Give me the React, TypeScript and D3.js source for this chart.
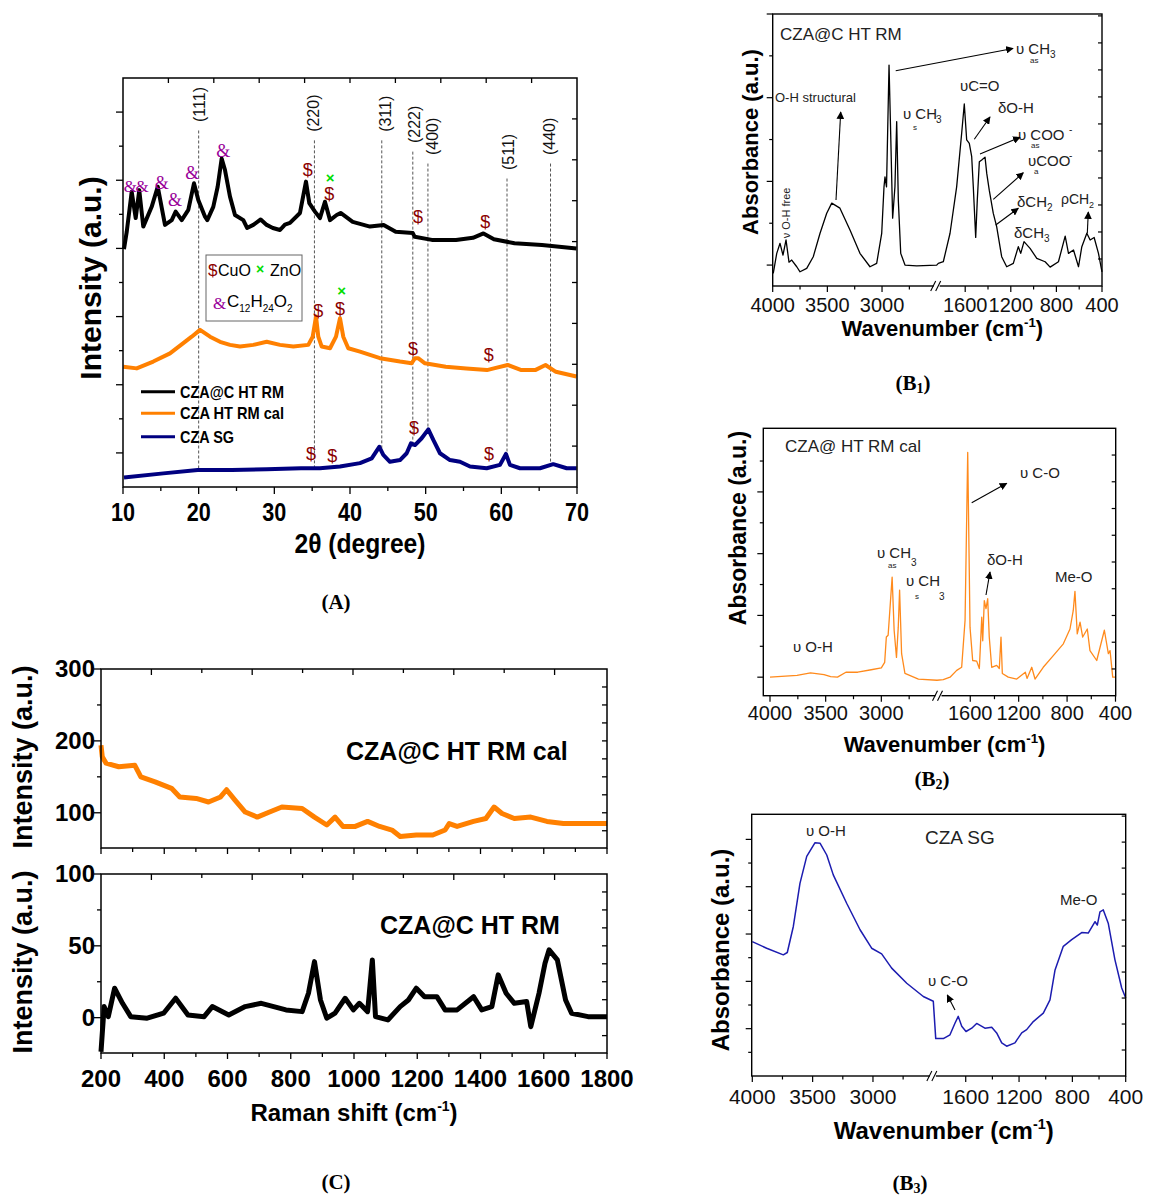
import React from "react";
import * as d3 from "d3";

const SANS = "Arial, 'Liberation Sans', Helvetica, sans-serif";
const SERIF = "'Times New Roman', 'Liberation Serif', Times, serif";

// ---------- (A) XRD ----------
const rmTheta = [10.13, 10.5, 11.15, 11.68, 12.15, 12.68, 13.79, 14.59, 15.55, 16.44, 16.96, 17.76, 18.63, 19.38, 19.95, 20.84, 21.14, 21.93, 22.51, 23.04, 23.48, 24.14, 24.8, 25.9, 26.4, 27.22, 28.2, 28.99, 29.8, 30.75, 31.4, 32.07, 33.39, 34.18, 34.62, 35.37, 36.03, 36.69, 37.36, 38.24, 38.76, 40.36, 42.64, 44.45, 46.04, 48.3, 48.55, 50.82, 54.01, 56.25, 57.64, 59.02, 61.74, 65.37, 69.93];
const rmInt = [6.98, 7.5, 8.66, 7.89, 8.71, 7.64, 8.22, 8.81, 7.69, 7.83, 8.08, 7.83, 8.13, 8.91, 8.42, 7.93, 7.83, 8.22, 8.81, 9.64, 9.3, 8.52, 7.98, 7.83, 7.6, 7.69, 7.85, 7.69, 7.6, 7.54, 7.7, 7.75, 8.04, 8.96, 8.33, 8.08, 7.89, 8.37, 7.83, 7.98, 8.04, 7.78, 7.64, 7.69, 7.49, 7.45, 7.34, 7.25, 7.25, 7.31, 7.44, 7.27, 7.15, 7.1, 7.0];
const calTheta = [10.04, 11.81, 14.0, 16.21, 17.97, 19.08, 20.18, 21.5, 22.82, 24.14, 25.46, 27.22, 28.99, 30.75, 32.51, 34.49, 35.07, 35.51, 35.81, 36.26, 37.36, 38.15, 38.68, 39.11, 39.77, 41.32, 43.96, 46.61, 48.15, 48.59, 49.0, 49.91, 52.65, 55.37, 58.1, 59.01, 60.84, 62.65, 64.47, 65.84, 67.21, 69.93];
const calInt = [3.53, 3.48, 3.68, 3.92, 4.22, 4.41, 4.61, 4.41, 4.26, 4.17, 4.12, 4.17, 4.26, 4.17, 4.12, 4.17, 4.41, 5.0, 4.41, 4.12, 4.07, 4.41, 4.95, 4.41, 4.07, 3.97, 3.78, 3.68, 3.63, 3.78, 3.78, 3.63, 3.53, 3.48, 3.43, 3.48, 3.58, 3.43, 3.43, 3.58, 3.38, 3.24];
const sgTheta = [10.13, 15.33, 19.87, 24.4, 28.98, 33.52, 36.03, 38.68, 41.32, 42.87, 43.87, 44.4, 45.28, 46.61, 47.49, 48.06, 48.59, 49.47, 50.35, 51.01, 51.89, 53.21, 54.54, 55.86, 58.06, 59.82, 60.61, 61.14, 62.46, 65.11, 66.86, 68.64, 69.96];
const sgInt = [0.28, 0.4, 0.5, 0.5, 0.52, 0.55, 0.55, 0.6, 0.7, 0.84, 1.18, 0.94, 0.74, 0.79, 0.99, 1.28, 1.23, 1.43, 1.69, 1.38, 0.99, 0.79, 0.74, 0.6, 0.55, 0.65, 0.97, 0.65, 0.55, 0.55, 0.67, 0.55, 0.55];
const xrdNames = ["CZA@C HT RM", "CZA HT RM cal", "CZA SG"];
const xrdColors = ["#000000", "#ff8000", "#000080"];
const xrdTicks = [10, 20, 30, 40, 50, 60, 70];

const hklLabels = ["(111)", "(220)", "(311)", "(222)", "(400)", "(511)", "(440)"];
const hklLineTheta = [20.0, 35.3, 44.2, 48.3, 50.3, 60.75, 66.5];
const hklLabelTheta = [20.05, 35.1, 44.6, 48.5, 50.9, 60.85, 66.3];
const hklBase = [10.71, 10.42, 10.42, 10.09, 9.74, 9.3, 9.74];

// phase marks: "&&" is the pair of C12H24O2 marks at ~11 and ~12.4 degrees
const markSym = ["&&", "&", "&", "&", "&", "$", "×", "$", "$", "$", "$", "$", "×", "$", "$", "$", "$", "$", "$"];
const markTheta = [11.65, 15.11, 16.87, 19.16, 23.25, 34.41, 37.36, 37.26, 48.98, 57.88, 35.81, 38.68, 38.9, 48.32, 58.33, 34.84, 37.66, 48.46, 58.37];
const markInt = [8.83, 8.92, 8.43, 9.21, 9.87, 9.32, 9.08, 8.62, 7.93, 7.78, 5.17, 5.24, 5.76, 4.07, 3.87, 0.97, 0.91, 1.75, 0.99];

// ---------- (B) FTIR ----------
const ftirTicks = [4000, 3500, 3000, 1600, 1200, 800, 400];
const ftirMinor = [3750, 3250, 2750, 1400, 1000, 600];

const b1Wn = [3995, 3963, 3933, 3906, 3878, 3851, 3826, 3780, 3750, 3689, 3629, 3567, 3506, 3460, 3385, 3293, 3202, 3110, 3049, 3003, 2982, 2973, 2959, 2936, 2921, 2903, 2882, 2866, 2851, 2829, 2790, 2683, 2500, 1836, 1792, 1733, 1675, 1631, 1608, 1587, 1564, 1543, 1529, 1508, 1494, 1476, 1455, 1426, 1411, 1389, 1354, 1324, 1280, 1236, 1178, 1134, 1113, 1084, 1031, 972, 899, 855, 782, 723, 694, 650, 606, 577, 533, 504, 469, 431, 400];
const b1Abs = [-0.2, 0.28, 0.52, 0.24, 0.6, 0.07, 0.12, -0.04, -0.16, -0.08, 0.2, 0.76, 1.24, 1.48, 1.36, 0.84, 0.28, -0.04, 0.04, 0.76, 1.87, 2.11, 1.87, 4.78, 3.15, 1.12, 1.87, 3.43, 1.55, 0.28, 0.0, -0.02, 0.0, 0.04, 0.08, 0.76, 1.87, 3.15, 3.85, 2.99, 2.91, 2.59, 1.87, 0.66, 1.55, 2.47, 2.51, 2.58, 2.19, 1.79, 1.24, 0.92, 0.2, -0.04, 0.04, 0.44, 0.28, 0.56, 0.4, 0.16, 0.08, -0.05, 0.08, 0.69, 0.28, 0.36, -0.04, 0.44, 0.76, 0.6, 0.66, 0.28, -0.16];

const b2Wn = [4000, 3757, 3636, 3515, 3455, 3394, 3318, 3212, 3091, 3000, 2970, 2955, 2939, 2903, 2885, 2864, 2848, 2836, 2818, 2788, 2667, 2500, 1823, 1767, 1712, 1671, 1643, 1621, 1610, 1602, 1580, 1547, 1525, 1505, 1497, 1484, 1470, 1456, 1443, 1423, 1382, 1360, 1346, 1335, 1286, 1216, 1145, 1131, 1092, 1065, 997, 914, 831, 776, 749, 735, 716, 693, 671, 633, 611, 555, 514, 492, 459, 445, 423, 404];
const b2Abs = [0, 0.03, 0.07, 0.04, 0.01, 0, 0.08, 0.08, 0.12, 0.15, 0.24, 0.65, 0.68, 1.62, 0.76, 0.32, 0.81, 1.41, 0.38, 0.06, -0.03, -0.05, -0.04, 0, 0.11, 0.16, 0.92, 3.64, 2.0, 0.81, 0.27, 0.26, 0.14, 0.97, 0.59, 1.24, 1.11, 1.27, 0.65, 0.16, 0.19, 0.14, 0.65, 0.06, 0, -0.03, 0.08, -0.02, 0.16, -0.03, 0.16, 0.35, 0.54, 0.78, 1.08, 1.39, 0.7, 0.89, 0.65, 0.78, 0.43, 0.27, 0.59, 0.76, 0.38, 0.43, 0, 0];

const b3Wn = [4000, 3881, 3743, 3710, 3660, 3605, 3549, 3480, 3439, 3383, 3329, 3218, 3107, 3011, 2928, 2845, 2720, 2583, 2500, 1825, 1768, 1718, 1680, 1656, 1630, 1598, 1555, 1518, 1456, 1405, 1368, 1330, 1293, 1231, 1180, 1143, 1093, 1018, 968, 930, 868, 805, 730, 681, 630, 613, 593, 568, 531, 481, 430, 400];
const b3Abs = [1.84, 1.7, 1.56, 1.61, 2.16, 3.07, 3.64, 3.93, 3.92, 3.67, 3.25, 2.65, 2.09, 1.7, 1.58, 1.28, 0.96, 0.68, 0.58, -0.21, -0.21, -0.13, 0.12, 0.26, 0.05, -0.06, 0.01, 0.11, 0.01, 0.03, -0.09, -0.3, -0.37, -0.3, -0.09, -0.02, 0.15, 0.33, 0.61, 1.24, 1.74, 1.88, 2.03, 2.02, 2.26, 2.19, 2.47, 2.51, 2.23, 1.46, 0.86, 0.65];

// ---------- (C) Raman ----------
const ramanCalShift = [200, 204, 216, 256, 307, 326, 371, 423, 449, 501, 540, 578, 597, 623, 656, 694, 733, 772, 836, 875, 914, 940, 965, 1004, 1043, 1081, 1120, 1146, 1197, 1249, 1288, 1301, 1326, 1378, 1417, 1443, 1468, 1507, 1559, 1610, 1662, 1714, 1800];
const ramanCalInt = [194, 178, 169, 164, 166, 150, 143, 134, 122, 120, 115, 122, 132, 118, 101, 94, 101, 108, 106, 94, 83, 94, 81, 81, 88, 81, 76, 67, 69, 69, 76, 85, 81, 88, 92, 108, 99, 92, 94, 88, 85, 85, 85];
const ramanRmShift = [200, 204, 210, 223, 243, 268, 294, 346, 398, 436, 475, 526, 552, 604, 656, 707, 785, 836, 856, 875, 894, 914, 940, 972, 998, 1017, 1043, 1058, 1068, 1107, 1146, 1172, 1197, 1223, 1262, 1288, 1326, 1378, 1404, 1436, 1456, 1481, 1507, 1546, 1559, 1585, 1604, 1617, 1643, 1669, 1688, 1740, 1800];
const ramanRmInt = [-23.7, -10.9, 7.7, 0.7, 20.5, 10.0, 0.7, -0.4, 3.1, 13.5, 1.9, 0.7, 7.7, 1.9, 7.7, 10.0, 5.4, 4.2, 17.0, 39.0, 12.3, -0.4, 3.1, 13.5, 5.4, 10.0, 4.2, 40.2, 0.7, -1.6, 7.7, 12.3, 20.5, 14.6, 14.6, 5.4, 5.4, 14.6, 5.4, 7.7, 29.8, 17.0, 10.0, 11.2, -6.3, 17.0, 37.9, 47.2, 40.2, 12.3, 3.1, 0.7, 0.7];
const ramanTicks = [200, 400, 600, 800, 1000, 1200, 1400, 1600, 1800];

function XrdPanel() {
  const L = 123, R = 577, T = 78, B = 487;
  const x = d3.scaleLinear().domain([10, 70]).range([L, R]);
  const y = d3.scaleLinear().domain([0, 12]).range([B, T]);
  const yR = d3.scaleLinear().domain([0, 10]).range([B, T]);
  const xT = d3.scaleLinear().domain([0, 10]).range([L, R]);
  const mk = (xs: number[], ys: number[]) =>
    d3.line<number>().x((_, i) => x(xs[i])).y((d) => y(d))(ys) || "";
  const series = [
    [rmTheta, rmInt],
    [calTheta, calInt],
    [sgTheta, sgInt],
  ];
  // where a guide line meets the bottom trace
  const sgAt = (t: number) => {
    const i = Math.max(1, Math.min(d3.bisectLeft(sgTheta, t), sgTheta.length - 1));
    const f = (t - sgTheta[i - 1]) / (sgTheta[i] - sgTheta[i - 1]);
    return sgInt[i - 1] + f * (sgInt[i] - sgInt[i - 1]);
  };
  const markColor = (s: string) => (s[0] === "&" ? "#990099" : s === "$" ? "#8b0000" : "#00dd00");
  return (
    <g>
      {hklLabels.map((h, i) => (
        <g key={h}>
          <line x1={x(hklLineTheta[i])} x2={x(hklLineTheta[i])} y1={y(hklBase[i] - 0.25)} y2={y(sgAt(hklLineTheta[i]))}
            stroke="#555" strokeWidth={1} strokeDasharray="3,2" />
          <text transform={`translate(${x(hklLabelTheta[i]) + 6},${y(hklBase[i])}) rotate(-90)`} fontSize={16} fill="#111">{h}</text>
        </g>
      ))}
      {[2, 1, 0].map((k) => (
        <path key={k} d={mk(series[k][0], series[k][1])} fill="none" stroke={xrdColors[k]} strokeWidth={4} strokeLinejoin="round" />
      ))}
      {markSym.map((s, i) => (
        <text key={i} x={x(markTheta[i])} y={y(markInt[i])} dy="0.35em" textAnchor="middle"
          fontFamily={s[0] === "&" ? SERIF : SANS} fontSize={s === "×" ? 15 : s === "&&" ? 17 : 18}
          fontWeight={s === "×" ? "bold" : "normal"} letterSpacing={s === "&&" ? -1.5 : 0}
          fill={markColor(s)}>{s}</text>
      ))}
      <rect x={L} y={T} width={R - L} height={B - T} fill="none" stroke="#000" strokeWidth={1.5} />
      {d3.range(1, 12).map((v) => (
        <line key={"l" + v} x1={L} x2={L - (v % 2 ? 7 : 4)} y1={y(v)} y2={y(v)} stroke="#000" strokeWidth={1.3} />
      ))}
      {d3.range(1, 10).map((v) => (
        <line key={"r" + v} x1={R} x2={R - 5} y1={yR(v)} y2={yR(v)} stroke="#000" strokeWidth={1.3} />
      ))}
      {d3.range(1, 10).map((v) => (
        <line key={"t" + v} x1={xT(v)} x2={xT(v)} y1={T} y2={T + 5} stroke="#000" strokeWidth={1.3} />
      ))}
      {d3.range(10, 71, 5).map((v) => (
        <line key={"b" + v} x1={x(v)} x2={x(v)} y1={B} y2={B + (v % 10 === 0 ? 7 : 4)} stroke="#000" strokeWidth={1.3} />
      ))}
      {xrdTicks.map((t) => (
        <text key={t} x={x(t)} y={521} textAnchor="middle" fontSize={25} fontWeight="bold" textLength={24} lengthAdjust="spacingAndGlyphs">{t}</text>
      ))}
      <text x={360} y={553} textAnchor="middle" fontSize={27} fontWeight="bold" textLength={131} lengthAdjust="spacingAndGlyphs">2θ (degree)</text>
      <text transform="translate(101,278) rotate(-90)" textAnchor="middle" fontSize={30} fontWeight="bold">Intensity (a.u.)</text>
      {/* phase legend */}
      <rect x={206} y={255} width={96} height={66} fill="#fff" stroke="#666" strokeWidth={1} />
      <text x={208} y={276} fontSize={17} fill="#8b0000">$</text>
      <text x={218} y={276} fontSize={16}>CuO</text>
      <text x={256} y={274} fontSize={14} fontWeight="bold" fill="#00dd00">×</text>
      <text x={270} y={276} fontSize={16}>ZnO</text>
      <text x={213} y={309} fontSize={17} fontFamily={SERIF} fill="#990099">&amp;</text>
      <text x={227} y={307} fontSize={17}>
        C<tspan fontSize={10} dy={5}>12</tspan><tspan dy={-5}>H</tspan><tspan fontSize={10} dy={5}>24</tspan><tspan dy={-5}>O</tspan><tspan fontSize={10} dy={5}>2</tspan>
      </text>
      {/* series legend */}
      {xrdNames.map((n, i) => {
        const ly = [391.7, 413.3, 436.7][i];
        return (
          <g key={n}>
            <line x1={141} x2={175} y1={ly} y2={ly} stroke={xrdColors[i]} strokeWidth={3} />
            <text x={180} y={ly + 6} fontSize={17} fontWeight="bold" textLength={i === 2 ? 54 : 104} lengthAdjust="spacingAndGlyphs">{n}</text>
          </g>
        );
      })}
    </g>
  );
}

type FtirCfg = {
  L: number; R: number; T: number; B: number;
  lr: [number, number]; rr: [number, number];
  yDom: [number, number]; yMajor: number[]; yMinor: number[];
  rDom: [number, number]; rTicks: number[];
  wn: number[]; ab: number[]; color: string; sw: number;
  tickFs: number; tickDy: number; titleY: number; titleFs: number;
  yTitleX: number; yTitleY: number; yTitleFs: number;
};

function Ftir({ c, children }: { c: FtirCfg; children?: React.ReactNode }) {
  const sl = d3.scaleLinear().domain([4000, 2500]).range(c.lr);
  const sr = d3.scaleLinear().domain([1850, 400]).range(c.rr);
  const sx = (w: number) => (w >= 2500 ? sl(w) : sr(w));
  const sy = d3.scaleLinear().domain(c.yDom).range([c.B, c.T]);
  const syR = d3.scaleLinear().domain(c.rDom).range([c.B, c.T]);
  const d = d3.line<number>().x((_, i) => sx(c.wn[i])).y((v) => sy(v))(c.ab) || "";
  const xb = (c.lr[1] + c.rr[0]) / 2;
  const cx = (c.L + c.R) / 2 + 5;
  return (
    <g>
      <path d={d} fill="none" stroke={c.color} strokeWidth={c.sw} strokeLinejoin="round" />
      <rect x={c.L} y={c.T} width={c.R - c.L} height={c.B - c.T} fill="none" stroke="#000" strokeWidth={1.4} />
      {ftirTicks.map((t) => (
        <line key={"M" + t} x1={sx(t)} x2={sx(t)} y1={c.B} y2={c.B + 6} stroke="#000" strokeWidth={1.2} />
      ))}
      {ftirMinor.map((t) => (
        <line key={"m" + t} x1={sx(t)} x2={sx(t)} y1={c.B} y2={c.B + 3.5} stroke="#000" strokeWidth={1.2} />
      ))}
      {ftirTicks.map((t) => (
        <text key={"T" + t} x={sx(t)} y={c.B + c.tickDy} textAnchor="middle" fontSize={c.tickFs} fill="#111">{t}</text>
      ))}
      <rect x={xb - 3} y={c.B - 2} width={6} height={4} fill="#fff" />
      <line x1={xb - 6} x2={xb - 1} y1={c.B + 5} y2={c.B - 5} stroke="#000" strokeWidth={1.1} />
      <line x1={xb - 1} x2={xb + 4} y1={c.B + 5} y2={c.B - 5} stroke="#000" strokeWidth={1.1} />
      {c.yMajor.map((v) => (
        <line key={"yM" + v} x1={c.L} x2={c.L - 6} y1={sy(v)} y2={sy(v)} stroke="#000" strokeWidth={1.2} />
      ))}
      {c.yMinor.map((v) => (
        <line key={"ym" + v} x1={c.L} x2={c.L - 3.5} y1={sy(v)} y2={sy(v)} stroke="#000" strokeWidth={1.2} />
      ))}
      {c.rTicks.map((v) => (
        <line key={"r" + v} x1={c.R} x2={c.R - 4} y1={syR(v)} y2={syR(v)} stroke="#000" strokeWidth={1.2} />
      ))}
      <text x={cx} y={c.titleY} textAnchor="middle" fontSize={c.titleFs} fontWeight="bold">
        Wavenumber (cm<tspan fontSize={c.titleFs * 0.6} dy={-c.titleFs * 0.4}>-1</tspan><tspan dy={c.titleFs * 0.4}>)</tspan>
      </text>
      <text transform={`translate(${c.yTitleX},${c.yTitleY}) rotate(-90)`} textAnchor="middle" fontSize={c.yTitleFs} fontWeight="bold">Absorbance (a.u.)</text>
      {children}
    </g>
  );
}

const Arrow = ({ a }: { a: number[] }) => (
  <line x1={a[0]} y1={a[1]} x2={a[2]} y2={a[3]} stroke="#000" strokeWidth={1.1} markerEnd="url(#arr)" />
);

const T = ({ x, y, s, children }: { x: number; y: number; s?: number; children: React.ReactNode }) => (
  <text x={x} y={y} fontSize={s || 15} fill="#222">{children}</text>
);

function RamanPanel() {
  const L = 101, R = 607;
  const x = d3.scaleLinear().domain([200, 1800]).range([L, R]);
  const xTop = d3.scaleLinear().domain([-1, 9.04]).range([L, R]);
  const yU = d3.scaleLinear().domain([51, 300]).range([848, 669]);
  const yL = d3.scaleLinear().domain([-24.6, 100]).range([1053, 874]);
  const up = d3.line<number>().x((_, i) => x(ramanCalShift[i])).y((v) => yU(v))(ramanCalInt) || "";
  const lo = d3.line<number>().x((_, i) => x(ramanRmShift[i])).y((v) => yL(v))(ramanRmInt) || "";
  const frame = (yS: d3.ScaleLinear<number, number>, major: number[], minor: number[], rt: number[], key: string) => {
    const [b, t] = yS.range();
    return (
      <g key={key}>
        <rect x={L} y={t} width={R - L} height={b - t} fill="none" stroke="#000" strokeWidth={1.5} />
        {major.map((v) => <line key={"M" + v} x1={L} x2={L - 7} y1={yS(v)} y2={yS(v)} stroke="#000" strokeWidth={1.3} />)}
        {minor.map((v) => <line key={"m" + v} x1={L} x2={L - 4} y1={yS(v)} y2={yS(v)} stroke="#000" strokeWidth={1.3} />)}
        {rt.map((v) => <line key={"r" + v} x1={R} x2={R - 5} y1={yS(v)} y2={yS(v)} stroke="#000" strokeWidth={1.3} />)}
        {major.map((v) => <text key={"t" + v} x={95} y={yS(v) + 8} textAnchor="end" fontSize={24} fontWeight="bold">{v}</text>)}
        {d3.range(200, 1801, 100).map((v) => (
          <line key={"b" + v} x1={x(v)} x2={x(v)} y1={b} y2={b + (v % 200 === 0 ? 6 : 4)} stroke="#000" strokeWidth={1.3} />
        ))}
        {d3.range(0, 9).map((v) => (
          <line key={"tp" + v} x1={xTop(v)} x2={xTop(v)} y1={t} y2={t + (v % 2 === 0 ? 6 : 4)} stroke="#000" strokeWidth={1.3} />
        ))}
      </g>
    );
  };
  return (
    <g>
      <path d={up} fill="none" stroke="#ff8000" strokeWidth={5} strokeLinejoin="round" />
      <path d={lo} fill="none" stroke="#000" strokeWidth={5} strokeLinejoin="round" />
      {frame(yU, [100, 200, 300], [150, 250], d3.range(75, 300, 25), "u")}
      {frame(yL, [0, 50, 100], [25, 75], d3.range(-12.5, 100, 12.5), "l")}
      {ramanTicks.map((t) => (
        <text key={t} x={x(t)} y={1087} textAnchor="middle" fontSize={24} fontWeight="bold">{t}</text>
      ))}
      <text x={354} y={1121} textAnchor="middle" fontSize={24} fontWeight="bold">
        Raman shift (cm<tspan fontSize={14} dy={-10}>-1</tspan><tspan dy={10}>)</tspan>
      </text>
      <text transform="translate(32,757) rotate(-90)" textAnchor="middle" fontSize={27} fontWeight="bold">Intensity (a.u.)</text>
      <text transform="translate(32,962) rotate(-90)" textAnchor="middle" fontSize={27} fontWeight="bold">Intensity (a.u.)</text>
      <text x={346} y={760} fontSize={25} fontWeight="bold">CZA@C HT RM cal</text>
      <text x={380} y={934} fontSize={25} fontWeight="bold">CZA@C HT RM</text>
    </g>
  );
}

const b1: FtirCfg = {
  L: 772.7, R: 1102, T: 14, B: 286, lr: [772.7, 936.7], rr: [936.7, 1102],
  yDom: [-0.5, 6], yMajor: [0, 2, 4, 6], yMinor: [1, 3, 5], rDom: [-1, 9.07], rTicks: d3.range(0, 10),
  wn: b1Wn, ab: b1Abs, color: "#000", sw: 1.3,
  tickFs: 20, tickDy: 26, titleY: 336, titleFs: 22, yTitleX: 758, yTitleY: 142, yTitleFs: 22,
};
const b2: FtirCfg = {
  L: 763.3, R: 1115.7, T: 428.3, B: 695.7, lr: [770, 937], rr: [940, 1115.5],
  yDom: [-0.3, 4.03], yMajor: [0, 1, 2, 3], yMinor: [0.5, 1.5, 2.5, 3.5], rDom: [-1, 9], rTicks: d3.range(0, 9),
  wn: b2Wn, ab: b2Abs, color: "#ff8a1c", sw: 1.3,
  tickFs: 20, tickDy: 24, titleY: 752, titleFs: 22, yTitleX: 746, yTitleY: 528, yTitleFs: 23,
};
const b3: FtirCfg = {
  L: 751.7, R: 1125.7, T: 814.3, B: 1076, lr: [752.3, 933.3], rr: [932.4, 1125.7],
  yDom: [-1, 4.53], yMajor: [0, 1, 2, 3, 4], yMinor: [-0.5, 0.5, 1.5, 2.5, 3.5], rDom: [-1, 9.07], rTicks: d3.range(0, 10),
  wn: b3Wn, ab: b3Abs, color: "#1c1cb0", sw: 1.5,
  tickFs: 21, tickDy: 28, titleY: 1139, titleFs: 24, yTitleX: 729, yTitleY: 950, yTitleFs: 24,
};

export default function App() {
  return (
    <svg width={1149} height={1195} viewBox="0 0 1149 1195" fontFamily={SANS}
      style={{ position: "absolute", left: 0, top: 0, background: "#fff" }}>
      <defs>
        <marker id="arr" viewBox="0 0 10 10" refX={9} refY={5} markerWidth={7} markerHeight={7} orient="auto">
          <path d="M0,0 L10,5 L0,10 z" fill="#000" />
        </marker>
      </defs>
      <rect width={1149} height={1195} fill="#fff" />
      <XrdPanel />

      <Ftir c={b1}>
        <T x={780} y={40} s={17}>CZA@C  HT RM</T>
        <Arrow a={[895.7, 70.7, 1013, 48.5]} />
        <T x={1016} y={54}>υ CH</T><T x={1030} y={63} s={8}>as</T><T x={1050} y={58} s={10}>3</T>
        <T x={775} y={102} s={13}>O-H structural</T>
        <Arrow a={[836, 200, 840.7, 112]} />
        <T x={903} y={119}>υ CH</T><T x={913} y={130} s={8}>s</T><T x={936} y={123} s={10}>3</T>
        <T x={960} y={91}>υC=O</T>
        <T x={998} y={113}>δO-H</T>
        <Arrow a={[974.3, 139.3, 990, 117]} />
        <T x={1018} y={140}>υ COO</T><T x={1069} y={133} s={10}>-</T><T x={1031} y={148} s={8}>as</T>
        <Arrow a={[980, 154, 1020, 137.3]} />
        <T x={1028} y={166}>υCOO</T><T x={1069} y={159} s={10}>-</T><T x={1034} y={174} s={8}>a</T>
        <Arrow a={[993.3, 199.3, 1023.3, 172.7]} />
        <T x={1017} y={207}>δCH</T><T x={1047} y={211} s={10}>2</T>
        <Arrow a={[995.7, 225, 1018.3, 208.3]} />
        <T x={1061} y={204} s={14}>ρCH</T><T x={1089} y={208} s={9}>2</T>
        <Arrow a={[1087.3, 233.3, 1088.3, 212]} />
        <T x={1014} y={238}>δCH</T><T x={1044} y={242} s={10}>3</T>
        <text transform="translate(790,213) rotate(-90)" textAnchor="middle" fontSize={11} fill="#222">ν O-H free</text>
      </Ftir>

      <Ftir c={b2}>
        <T x={785} y={452} s={17}>CZA@ HT RM cal</T>
        <T x={1020} y={478}>υ C-O</T>
        <Arrow a={[971.7, 502.7, 1006.7, 483.3]} />
        <T x={877} y={558}>υ  CH</T><T x={888} y={568} s={8}>as</T><T x={911} y={566} s={10}>3</T>
        <T x={906} y={586}>υ CH</T><T x={915} y={599} s={8}>s</T><T x={939} y={600} s={10}>3</T>
        <T x={987} y={565}>δO-H</T>
        <Arrow a={[986, 595, 990, 572]} />
        <T x={1055} y={582}>Me-O</T>
        <T x={793} y={652}>υ O-H</T>
      </Ftir>

      <Ftir c={b3}>
        <T x={806} y={836}>υ O-H</T>
        <T x={925} y={844} s={19}>CZA SG</T>
        <T x={928} y={986}>υ C-O</T>
        <Arrow a={[955, 1010, 947.3, 995]} />
        <T x={1060} y={905}>Me-O</T>
      </Ftir>

      <RamanPanel />

      <g fontFamily={SERIF} fontWeight="bold" fontSize={21} textAnchor="middle">
        <text x={336} y={609}>(A)</text>
        <text x={913} y={390}>(B<tspan fontSize={14} dy={3}>1</tspan><tspan dy={-3}>)</tspan></text>
        <text x={932} y={786}>(B<tspan fontSize={14} dy={3}>2</tspan><tspan dy={-3}>)</tspan></text>
        <text x={910} y={1190}>(B<tspan fontSize={14} dy={3}>3</tspan><tspan dy={-3}>)</tspan></text>
        <text x={336} y={1189}>(C)</text>
      </g>
    </svg>
  );
}
